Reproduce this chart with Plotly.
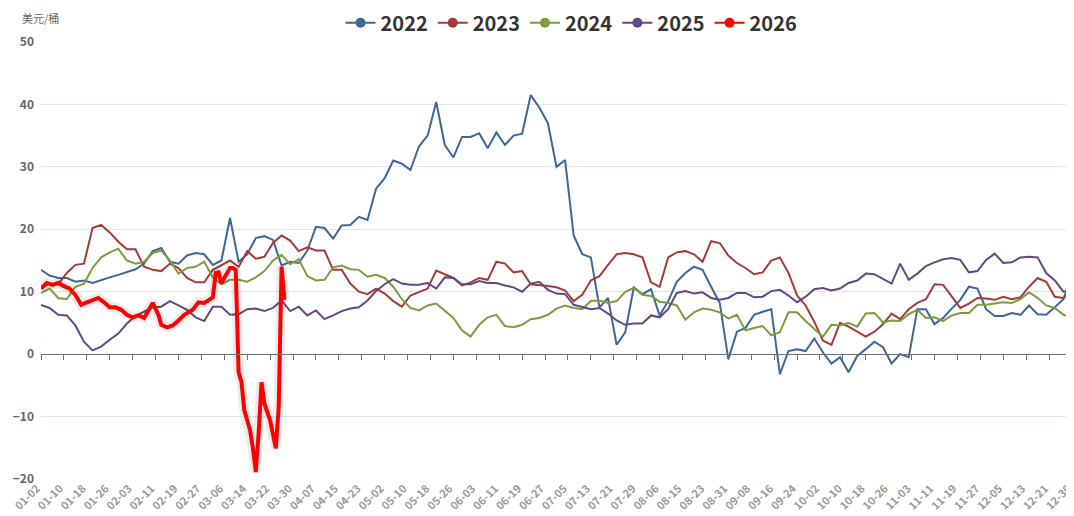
import plotly.graph_objects as go
import pandas as pd

# ---- categories (MM-DD union of trading days) ----
excluded_days = ["05-01", "08-10", "12-25"]
categories = [d.strftime("%m-%d") for d in pd.date_range("2024-01-02", "2024-12-31")
              if d.strftime("%m-%d") not in excluded_days]

tick_labels = ["01-02", "01-10", "01-18", "01-26", "02-03", "02-11", "02-19", "02-27",
               "03-06", "03-14", "03-22", "03-30", "04-07", "04-15", "04-23", "05-02",
               "05-10", "05-18", "05-26", "06-03", "06-11", "06-19", "06-27", "07-05",
               "07-13", "07-21", "07-29", "08-06", "08-15", "08-23", "08-31", "09-08",
               "09-16", "09-24", "10-02", "10-10", "10-18", "10-26", "11-03", "11-11",
               "11-19", "11-27", "12-05", "12-13", "12-21", "12-30"]

# sampled dates for the 2022-2025 series (every third category)
sample_dates = categories[::3]

vals_2022 = [13.5, 12.6, 12.2, 12.2, 11.6, 11.8, 11.4, 11.9, 12.3, 12.7,
             13.1, 13.6, 14.5, 16.5, 17.0, 14.8, 14.5, 15.8, 16.2, 16.0,
             14.3, 15.0, 21.8, 14.8, 16.0, 18.6, 18.9, 18.3, 14.2, 14.8,
             14.6, 16.6, 20.4, 20.2, 18.5, 20.6, 20.7, 22.0, 21.5, 26.5,
             28.2, 31.0, 30.5, 29.5, 33.3, 35.0, 40.4, 33.5, 31.5, 34.8,
             34.8, 35.4, 33.0, 35.5, 33.5, 35.0, 35.3, 41.5, 39.5, 37.0,
             30.0, 31.1, 19.0, 16.0, 15.5, 7.5, 9.0, 1.5, 3.5, 10.7,
             9.6, 10.4, 6.2, 8.5, 11.6, 13.0, 14.0, 13.5, 10.8, 8.2,
             -0.8, 3.6, 4.2, 6.3, 6.8, 7.2, -3.2, 0.5, 0.8, 0.5,
             2.5, 0.3, -1.5, -0.5, -2.9, -0.3, 0.8, 2.0, 1.1, -1.5,
             0.0, -0.5, 7.2, 7.2, 4.8, 5.8, 7.3, 8.7, 10.8, 10.5,
             7.2, 6.1, 6.1, 6.6, 6.3, 7.8, 6.4, 6.3, 7.5, 8.8, 12.5]

vals_2023 = [10.6, 11.3, 11.2, 13.0, 14.3, 14.5, 20.2, 20.7, 19.5, 18.0,
             16.8, 16.8, 14.0, 13.5, 13.3, 14.5, 13.8, 12.2, 11.5, 11.5,
             13.5, 14.2, 15.0, 14.0, 16.5, 15.3, 15.6, 17.8, 19.0, 18.2,
             16.5, 17.1, 16.6, 16.6, 13.5, 13.5, 11.3, 10.0, 9.6, 10.5,
             9.7, 8.5, 7.6, 9.4, 9.9, 10.5, 13.4, 12.8, 12.2, 11.0,
             11.5, 12.2, 11.9, 14.8, 14.5, 13.1, 13.3, 11.2, 11.1, 10.9,
             10.7, 10.2, 8.5, 9.5, 11.8, 12.5, 14.3, 16.0, 16.2, 16.0,
             15.5, 11.5, 10.8, 15.5, 16.3, 16.5, 16.0, 14.8, 18.1, 17.8,
             15.8, 14.6, 13.8, 12.8, 13.1, 15.0, 15.5, 13.0, 9.4, 7.8,
             5.2, 2.2, 1.5, 5.0, 4.4, 3.6, 2.8, 3.6, 4.8, 6.5,
             5.6, 7.2, 8.2, 8.8, 11.2, 11.1, 9.2, 7.4, 8.1, 9.0,
             8.9, 8.7, 9.2, 8.8, 9.1, 10.8, 12.2, 11.6, 9.2, 9.0, 9.8]

vals_2024 = [9.8, 10.5, 9.0, 8.8, 10.8, 11.3, 13.8, 15.5, 16.3, 16.9,
             15.0, 14.5, 14.8, 16.2, 16.6, 15.0, 12.9, 13.8, 14.0, 14.8,
             12.3, 11.2, 11.9, 11.9, 11.6, 12.3, 13.3, 15.0, 15.9, 14.4,
             15.2, 12.5, 11.8, 11.9, 13.9, 14.2, 13.6, 13.5, 12.4, 12.7,
             12.2, 10.8, 8.8, 7.4, 7.0, 7.8, 8.1, 6.9, 5.8, 3.8,
             2.8, 4.7, 5.9, 6.3, 4.5, 4.3, 4.7, 5.6, 5.8, 6.3,
             7.3, 7.8, 7.4, 7.2, 8.5, 8.6, 8.2, 8.5, 10.0, 10.6,
             9.5, 9.3, 8.4, 8.2, 7.8, 5.5, 6.7, 7.3, 7.1, 6.7,
             5.7, 6.3, 3.8, 4.2, 4.5, 3.0, 3.5, 6.7, 6.7, 5.3,
             4.0, 2.8, 4.7, 4.6, 5.0, 4.4, 6.5, 6.6, 5.1, 5.4,
             5.3, 6.4, 7.1, 5.8, 5.9, 5.3, 6.2, 6.6, 6.6, 7.9,
             7.9, 8.1, 8.3, 8.2, 8.8, 9.9, 9.0, 7.8, 7.4, 6.3, 5.9]

vals_2025 = [7.9, 7.4, 6.3, 6.2, 4.6, 2.0, 0.6, 1.2, 2.3, 3.3,
             4.9, 6.1, 6.8, 7.5, 7.6, 8.5, 7.8, 7.1, 5.9, 5.3,
             7.6, 7.6, 6.3, 6.4, 7.2, 7.3, 6.9, 7.4, 8.6, 6.9,
             7.6, 6.2, 7.0, 5.6, 6.2, 6.9, 7.3, 7.5, 8.6, 10.1,
             11.2, 12.0, 11.3, 11.1, 11.1, 11.4, 10.5, 12.3, 12.2, 11.2,
             11.2, 11.7, 11.4, 11.4, 11.0, 10.7, 10.0, 11.3, 11.6, 10.3,
             9.7, 9.6, 7.9, 7.5, 7.2, 7.4, 6.5, 5.4, 4.7, 4.9,
             4.9, 6.2, 5.9, 7.2, 9.8, 10.1, 9.7, 9.9, 9.0, 8.7,
             9.0, 9.8, 9.8, 9.1, 9.2, 10.1, 10.3, 9.4, 8.3, 9.2,
             10.4, 10.6, 10.2, 10.5, 11.4, 11.8, 12.9, 12.8, 12.0, 11.3,
             14.5, 11.9, 12.9, 14.1, 14.7, 15.2, 15.4, 15.1, 13.1, 13.3,
             15.1, 16.1, 14.6, 14.7, 15.5, 15.6, 15.5, 13.0, 11.8, 10.0, 10.2]

dates_2026 = ["01-02", "01-04", "01-06", "01-08", "01-10", "01-12", "01-14", "01-16",
              "01-18", "01-20", "01-22", "01-24", "01-26", "01-28", "01-30", "02-01",
              "02-03", "02-05", "02-07", "02-08", "02-10", "02-12", "02-13", "02-15",
              "02-17", "02-19", "02-21", "02-24", "02-26", "02-28", "03-01", "03-02",
              "03-03", "03-04", "03-05", "03-06", "03-07", "03-08", "03-09", "03-10",
              "03-11", "03-12", "03-13", "03-15", "03-16", "03-17", "03-18", "03-19",
              "03-20", "03-22", "03-24", "03-25", "03-26", "03-27"]
vals_2026 = [10.5, 11.4, 11.1, 11.4, 10.9, 10.5, 9.5, 7.9, 8.3, 8.7,
             9.0, 8.3, 7.5, 7.5, 7.1, 6.3, 5.9, 6.2, 5.8, 6.6,
             8.2, 6.3, 4.7, 4.3, 4.6, 5.4, 6.3, 7.1, 8.3, 8.2,
             8.7, 9.1, 13.0, 13.1, 11.4, 12.3, 13.1, 13.8, 13.8, 13.5,
             -2.9, -4.5, -9.0, -12.2, -15.1, -18.9, -12.7, -4.5, -7.9, -10.6,
             -15.1, -8.5, 14.0, 8.7]

series_names = ["2022", "2023", "2024", "2025", "2026"]
series_colors = ["#3d6797", "#a33c38", "#7f9b40", "#604a86", "#ff0000"]

fig = go.Figure()

hist = [vals_2022, vals_2023, vals_2024, vals_2025]
for name, vals, color in zip(series_names[:4], hist, series_colors[:4]):
    n = min(len(vals), len(sample_dates))
    fig.add_trace(go.Scatter(x=sample_dates[:n], y=vals[:n], mode="lines",
                             line=dict(color=color, width=2), name=name,
                             legendgroup=name, showlegend=False, hoverinfo="skip"))

# 2026: soft shadow + thick red line
fig.add_trace(go.Scatter(x=dates_2026, y=vals_2026, mode="lines",
                         line=dict(color="rgba(0,0,0,0.08)", width=10),
                         showlegend=False, hoverinfo="skip"))
fig.add_trace(go.Scatter(x=dates_2026, y=vals_2026, mode="lines",
                         line=dict(color=series_colors[4], width=4), name="2026",
                         legendgroup="2026", showlegend=False, hoverinfo="skip"))

# legend entries (line + circle symbol)
for name, color in zip(series_names, series_colors):
    fig.add_trace(go.Scatter(x=[None], y=[None], mode="lines+markers",
                             line=dict(color=color, width=2),
                             marker=dict(color=color, size=10),
                             name=name, legendgroup=name, hoverinfo="skip"))

# dummy trace for zero-line axis
fig.add_trace(go.Scatter(x=[categories[0]], y=[None], xaxis="x2", yaxis="y",
                         showlegend=False, hoverinfo="skip"))

x_range = [0, 360.7]

# page body has an 8px margin: figure is sized/offset to compensate
fig.update_layout(
    width=1066, height=508,
    margin=dict(l=33, r=0, t=34, b=37, autoexpand=False),
    plot_bgcolor="white", paper_bgcolor="white",
    font=dict(family="Noto Sans CJK SC, Open Sans, sans-serif", color="#666"),
    showlegend=True,
    legend=dict(orientation="h", xref="paper", x=0.5136, xanchor="center",
                yref="paper", y=1.044, yanchor="middle",
                font=dict(size=20, color="#333", weight="bold"),
                itemwidth=30, traceorder="normal", bgcolor="rgba(0,0,0,0)"),
    xaxis=dict(type="category", categoryorder="array", categoryarray=categories,
               range=x_range, tickmode="array", tickvals=tick_labels, ticktext=tick_labels,
               tickangle=-45, tickfont=dict(size=11, color="#999", weight="bold"),
               ticklabelshift=-4,
               showgrid=False, showline=False, ticks="", zeroline=False, automargin=False),
    xaxis2=dict(type="category", categoryorder="array", categoryarray=categories,
                range=x_range, overlaying="x", anchor="free", position=2 / 7, side="bottom",
                showline=True, linecolor="#6E7079", linewidth=1,
                ticks="outside", ticklen=5, tickcolor="#6E7079",
                tickmode="array", tickvals=tick_labels, showticklabels=False,
                showgrid=False, zeroline=False),
    yaxis=dict(range=[-20, 50], tick0=0, dtick=10, gridcolor="#E0E6F1", gridwidth=1,
               zeroline=False, showline=False, ticks="",
               tickfont=dict(size=12, color="#666", weight="bold"),
               ticklabelstandoff=6, automargin=False),
    annotations=[dict(text="美元/桶", xref="paper", yref="paper", x=-0.02, y=1.055,
                      xanchor="left", yanchor="middle", showarrow=False,
                      font=dict(size=11, color="#666"))],
)

fig.write_html("out.html")
